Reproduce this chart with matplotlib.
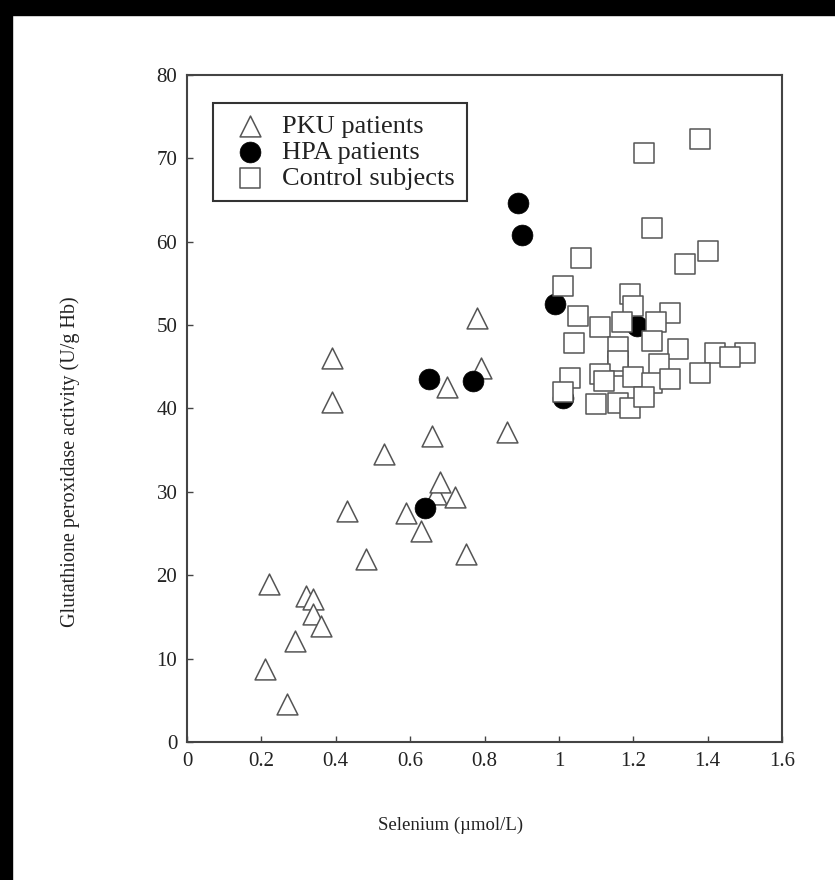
import matplotlib
matplotlib.use("Agg")
import matplotlib.pyplot as plt
from matplotlib.patches import Rectangle

# PKU patients (triangles)
pku_x = [0.21, 0.22, 0.27, 0.29, 0.32, 0.34, 0.34, 0.36, 0.39, 0.39, 0.43, 0.48,
         0.53, 0.59, 0.63, 0.66, 0.67, 0.68, 0.70, 0.72, 0.75, 0.78, 0.79, 0.86]
pku_y = [8.8, 19.0, 4.6, 12.1, 17.5, 17.2, 15.4, 13.9, 46.1, 40.8, 27.7, 21.9,
         34.6, 27.5, 25.3, 36.7, 29.8, 31.2, 42.6, 29.4, 22.6, 50.9, 44.9, 37.2]

# HPA patients (filled circles)
hpa_x = [0.64, 0.65, 0.77, 0.89, 0.90, 0.99, 1.01, 1.21]
hpa_y = [28.1, 43.5, 43.3, 64.7, 60.8, 52.5, 41.2, 49.9]

# Control subjects (squares)
ctl_x = [1.23, 1.38, 1.25, 1.40, 1.34, 1.06, 1.01, 1.19, 1.20, 1.05, 1.30, 1.11,
         1.17, 1.26, 1.04, 1.16, 1.25, 1.32, 1.42, 1.50, 1.46, 1.38, 1.16, 1.16,
         1.27, 1.03, 1.11, 1.12, 1.20, 1.25, 1.30, 1.01, 1.10, 1.16, 1.19, 1.23]
ctl_y = [70.6, 72.3, 61.6, 58.9, 57.3, 58.1, 54.7, 53.7, 52.3, 51.1, 51.5, 49.8,
         50.4, 50.4, 47.9, 47.4, 48.1, 47.1, 46.7, 46.7, 46.2, 44.3, 45.1, 45.7,
         45.3, 43.7, 44.1, 43.3, 43.8, 43.1, 43.5, 42.0, 40.5, 40.7, 40.1, 41.4]

x_ticks = [0, 0.2, 0.4, 0.6, 0.8, 1, 1.2, 1.4, 1.6]
x_ticklabels = ["0", "0.2", "0.4", "0.6", "0.8", "1", "1.2", "1.4", "1.6"]
y_ticks = [0, 10, 20, 30, 40, 50, 60, 70, 80]

plt.rcParams['font.family'] = ['Liberation Serif', 'DejaVu Serif']

fig = plt.figure(figsize=(8.35, 8.8), dpi=100)
fig.patch.set_facecolor('white')
# dark scan edges
fig.patches.append(Rectangle((0, 0), 12 / 835, 1, transform=fig.transFigure,
                             color='black', zorder=0))
fig.patches.append(Rectangle((0, 1 - 15 / 880), 1, 15 / 880, transform=fig.transFigure,
                             color='black', zorder=0))

ax = fig.add_axes([0.224, 0.1568, 0.7126, 0.758])

edge = '#555555'
ms = 15
ax.scatter(pku_x, pku_y, marker='^', s=ms ** 2, facecolors='white',
           edgecolors=edge, linewidths=1.1, label='PKU patients', zorder=2)
ax.scatter(hpa_x, hpa_y, marker='o', s=ms ** 2, facecolors='black',
           edgecolors='black', linewidths=0.5, label='HPA patients', zorder=3)
ax.scatter(ctl_x, ctl_y, marker='s', s=ms ** 2, facecolors='white',
           edgecolors=edge, linewidths=1.1, label='Control subjects', zorder=4)

ax.set_xlim(0, 1.6)
ax.set_ylim(0, 80)
ax.set_xticks(x_ticks)
ax.set_xticklabels(x_ticklabels)
ax.set_yticks(y_ticks)
ax.tick_params(direction='in', length=4, width=1, color='#444444',
               labelsize=15, labelcolor='#222222', pad=7)
for s in ax.spines.values():
    s.set_color('#444444')
    s.set_linewidth(1.5)

fig.text(451 / 835, 1 - 825 / 880, 'Selenium (\u00b5mol/L)', fontsize=13.5,
         color='#222222', ha='center', va='center')
fig.text(70 / 835, 1 - 462 / 880, 'Glutathione peroxidase activity (U/g Hb)',
         fontsize=14.5, color='#222222', ha='center', va='center', rotation=90)

leg = ax.legend(loc='upper left', bbox_to_anchor=(0.044, 0.958), borderaxespad=0,
                fontsize=19, frameon=True, fancybox=False, markerscale=1.0,
                handletextpad=0.27, labelspacing=0.08, borderpad=0.45,
                handlelength=1.9)
leg.get_frame().set_edgecolor('black')
leg.get_frame().set_linewidth(1.5)
for t in leg.get_texts():
    t.set_color('#222222')

fig.savefig('out.png', dpi=100, facecolor='white')
